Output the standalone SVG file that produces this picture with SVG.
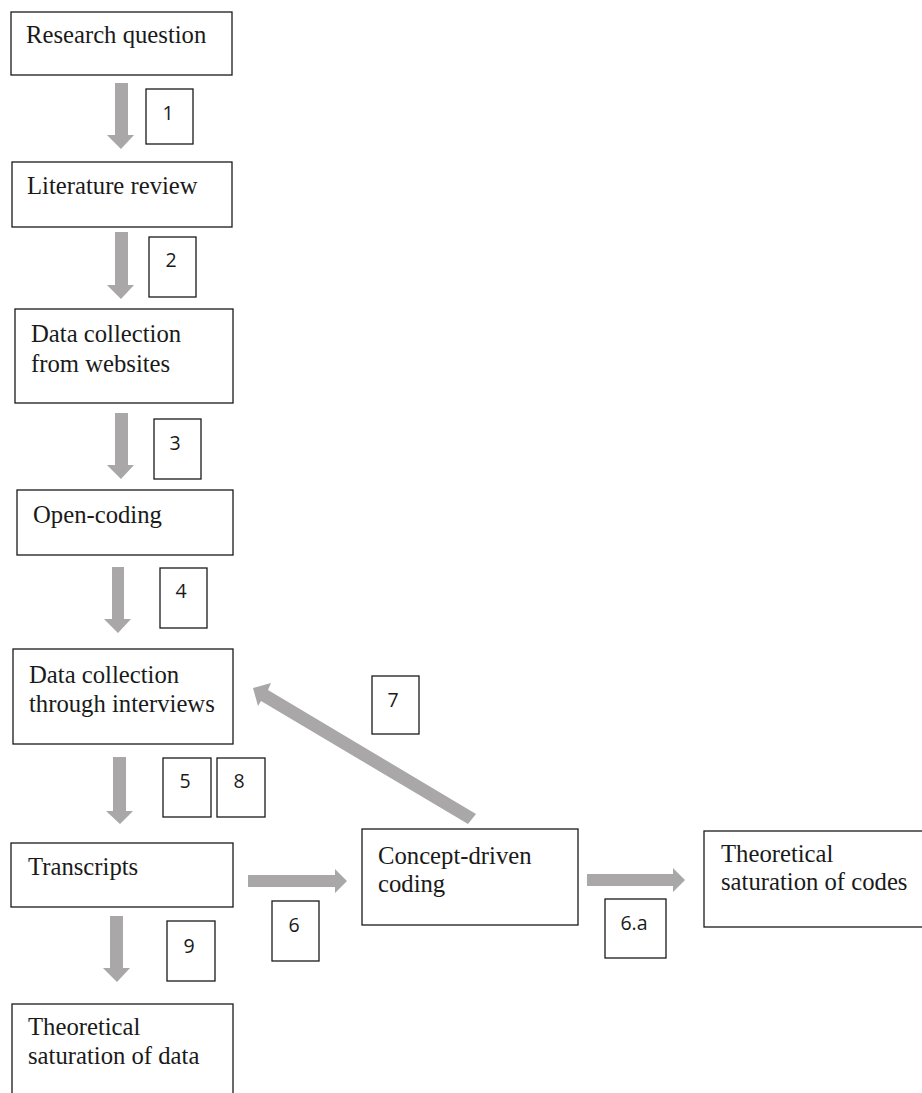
<svg xmlns="http://www.w3.org/2000/svg" width="922" height="1093" viewBox="0 0 922 1093">
<style>
.box{fill:#fff;stroke:#1a1a1a;stroke-width:1.3}
.t{font-family:"Liberation Serif","Times New Roman",serif;font-size:24.7px;fill:#1a1a1a}
.n{font-family:"Open Sans","Liberation Sans",sans-serif;font-size:19.5px;fill:#1a1a1a;text-anchor:middle}
.arr{fill:#a9a7a7;stroke:none}
</style>
<rect width="922" height="1093" fill="#fff"/>
<g id="connectors">
<polygon class="arr" points="115,83 128,83 128,135 134,135 121,149 107,135 115,135"/>
<polygon class="arr" points="115,232 128,232 128,285 134,285 121,299 107,285 115,285"/>
<polygon class="arr" points="115,413 128,413 128,465 134,465 121,479 107,465 115,465"/>
<polygon class="arr" points="112,567 124,567 124,619 131,619 118,633 104,619 112,619"/>
<polygon class="arr" points="113,757 126,757 126,811 133,811 120,824 106,811 113,811"/>
<polygon class="arr" points="110,916 123,916 123,968 130,968 117,982 103,968 110,968"/>
<polygon class="arr" points="248,875 335,875 335,869 347,881 335,893 335,887 248,887"/>
<polygon class="arr" points="587,874 673,874 673,868 685,880 673,892 673,886 587,886"/>
<polygon class="arr" points="476,814 468,824 261,701 258,706 253,688 271,683 268,690"/>
</g>
<g id="n-research"><rect class="box" x="11" y="12" width="221" height="63"/><text class="t" x="26" y="43">Research question</text></g>
<g id="n-literature"><rect class="box" x="12" y="162" width="220" height="65"/><text class="t" x="27" y="194">Literature review</text></g>
<g id="n-websites"><rect class="box" x="15" y="309" width="218" height="94"/><text class="t" x="31" y="342">Data collection</text><text class="t" x="31" y="372">from websites</text></g>
<g id="n-opencoding"><rect class="box" x="17" y="490" width="216" height="65"/><text class="t" x="33" y="523">Open-coding</text></g>
<g id="n-interviews"><rect class="box" x="13" y="649" width="220" height="95"/><text class="t" x="29" y="683">Data collection</text><text class="t" x="29" y="712">through interviews</text></g>
<g id="n-transcripts"><rect class="box" x="11" y="843" width="222" height="64"/><text class="t" x="28" y="875">Transcripts</text></g>
<g id="n-satdata"><rect class="box" x="12" y="1004" width="221" height="100"/><text class="t" x="28" y="1035">Theoretical</text><text class="t" x="28" y="1064">saturation of data</text></g>
<g id="n-concept"><rect class="box" x="362" y="829" width="216" height="96"/><text class="t" x="378" y="864">Concept-driven</text><text class="t" x="378" y="892">coding</text></g>
<g id="n-satcodes"><rect class="box" x="704" y="831" width="230" height="96"/><text class="t" x="721" y="862">Theoretical</text><text class="t" x="721" y="890">saturation of codes</text></g>
<g id="l-1"><rect class="box" x="146" y="89" width="47" height="55"/><text class="n" x="168" y="120">1</text></g>
<g id="l-2"><rect class="box" x="149" y="237" width="47" height="60"/><text class="n" x="171" y="267">2</text></g>
<g id="l-3"><rect class="box" x="154" y="419" width="47" height="60"/><text class="n" x="175" y="450">3</text></g>
<g id="l-4"><rect class="box" x="160" y="568" width="47" height="60"/><text class="n" x="181" y="598">4</text></g>
<g id="l-5"><rect class="box" x="163" y="758" width="48" height="59"/><text class="n" x="185" y="788">5</text></g>
<g id="l-8"><rect class="box" x="217" y="758" width="48" height="59"/><text class="n" x="239" y="788">8</text></g>
<g id="l-7"><rect class="box" x="372" y="676" width="47" height="58"/><text class="n" x="393" y="707">7</text></g>
<g id="l-6"><rect class="box" x="272" y="901" width="47" height="60"/><text class="n" x="294" y="932">6</text></g>
<g id="l-6a"><rect class="box" x="605" y="899" width="61" height="59"/><text class="n" x="634" y="930">6.a</text></g>
<g id="l-9"><rect class="box" x="167" y="921" width="48" height="60"/><text class="n" x="189" y="953">9</text></g>
</svg>
